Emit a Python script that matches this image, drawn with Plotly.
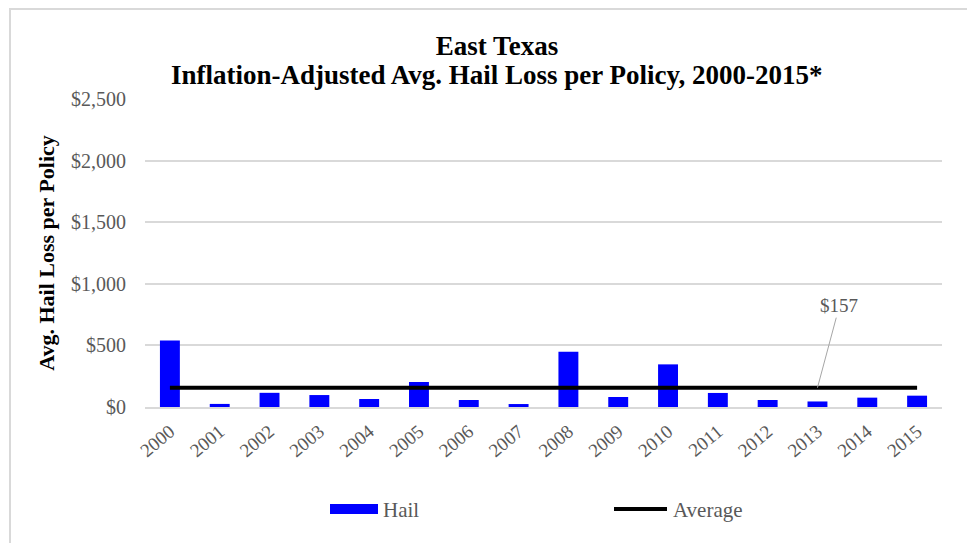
import plotly.graph_objects as go

years = ["2000", "2001", "2002", "2003", "2004", "2005", "2006", "2007",
         "2008", "2009", "2010", "2011", "2012", "2013", "2014", "2015"]
hail = [540, 25, 115, 97, 65, 203, 57, 24, 449, 81, 346, 114, 57, 45, 76, 92]
avg_value = 157
average = [avg_value] * len(years)
y_ticks = [0, 500, 1000, 1500, 2000, 2500]
y_tick_labels = ["$0", "$500", "$1,000", "$1,500", "$2,000", "$2,500"]
title_line1 = "East Texas"
title_line2 = "Inflation-Adjusted Avg. Hail Loss per Policy, 2000-2015*"
label_year = "2013"

FONT = "Liberation Serif, Times New Roman, serif"

OFF = 8  # page body margin in the browser
FW, FH = 975, 543
# plot-area geometry in screen pixels
L, R, T, B = 145, 942, 99, 407
W, H = R - L, B - T


def px(x):
    return (x - L) / W


def py(y):
    return (B - y) / H


fig = go.Figure()
fig.add_trace(go.Bar(x=years, y=hail, name="Hail", marker_color="#0000FF",
                     marker_line_width=0, showlegend=False))
fig.add_trace(go.Scatter(x=years, y=average, name="Average", mode="lines",
                         line=dict(color="#000000", width=4), showlegend=False))

fig.add_annotation(x=years.index(label_year), y=avg_value, xref="x", yref="y",
                   text="$" + str(avg_value), showarrow=True, arrowhead=0,
                   arrowwidth=1, arrowcolor="#a6a6a6", ax=22, ay=-82,
                   font=dict(family=FONT, size=19, color="#595959"))

shapes = []
# legend swatches
shapes.append(dict(type="rect", xref="paper", yref="paper",
                   x0=px(330), x1=px(378), y0=py(514), y1=py(504),
                   fillcolor="#0000FF", line_width=0))
shapes.append(dict(type="line", xref="paper", yref="paper",
                   x0=px(614), x1=px(667), y0=py(509), y1=py(509),
                   line=dict(color="#000000", width=4)))
# chart frame
shapes.append(dict(type="rect", xref="paper", yref="paper",
                   x0=px(10), x1=px(968), y0=py(570), y1=py(9),
                   line=dict(color="#d9d9d9", width=2), fillcolor="rgba(0,0,0,0)",
                   layer="below"))

for x0, txt in [(381, "Hail"), (671, "Average")]:
    fig.add_annotation(x=px(x0), y=py(510), xref="paper", yref="paper", text=txt,
                       showarrow=False, xanchor="left", yanchor="middle",
                       font=dict(family=FONT, size=21, color="#595959"))

fig.add_annotation(x=px(497), y=py(75), xref="paper", yref="paper",
                   text="<b>" + title_line2 + "</b>", showarrow=False,
                   xanchor="center", yanchor="middle",
                   font=dict(family=FONT, size=27, color="#000000"))

fig.update_layout(
    width=FW, height=FH,
    margin=dict(l=L - OFF, r=FW - (R - OFF), t=T - OFF, b=FH - (B - OFF),
                autoexpand=False),
    paper_bgcolor="white", plot_bgcolor="white",
    bargap=0.6,
    shapes=shapes,
    title=dict(text="<b>" + title_line1 + "</b>",
               x=(497 - OFF) / FW, xanchor="center", y=1 - (46 - OFF) / FH,
               yanchor="middle",
               font=dict(family=FONT, size=27, color="#000000")),
    font=dict(family=FONT, size=20, color="#595959"),
    xaxis=dict(type="category", tickangle=-40, showgrid=False,
               showline=True, linecolor="#d9d9d9", linewidth=2,
               ticks="", ticklabelstandoff=4,
               tickfont=dict(family=FONT, size=19, color="#595959")),
    yaxis=dict(range=[0, 2500], tickvals=y_ticks, ticktext=y_tick_labels,
               showgrid=True, gridcolor="#d9d9d9", gridwidth=2, zeroline=False,
               showline=False, ticks="", ticklabelstandoff=18,
               tickfont=dict(family=FONT, size=20, color="#595959"),
               title=dict(text="<b>Avg. Hail Loss per Policy</b>", standoff=10,
                          font=dict(family=FONT, size=22, color="#000000"))),
)

fig.write_html("out.html")
